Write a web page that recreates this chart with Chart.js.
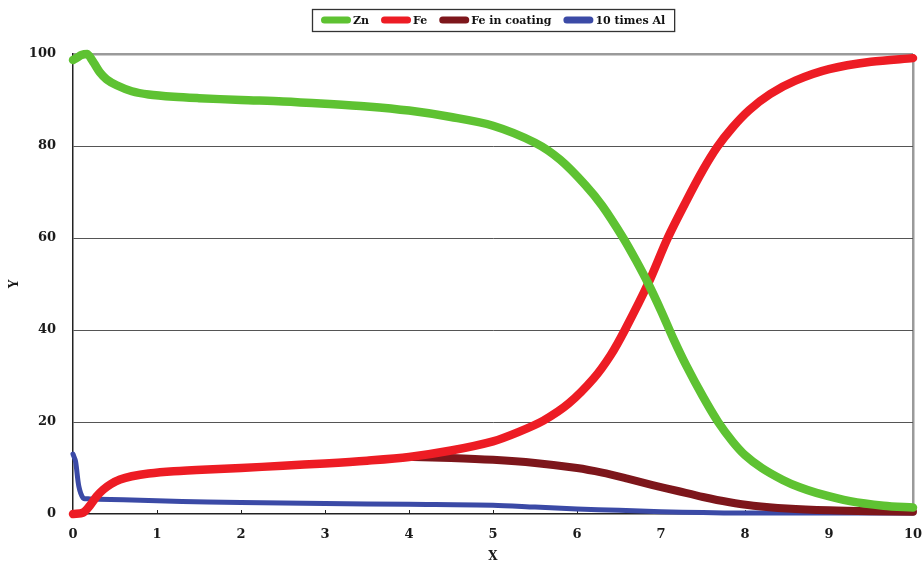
<!DOCTYPE html>
<html>
<head>
<meta charset="utf-8">
<script src="https://cdn.jsdelivr.net/npm/chart.js@4/dist/chart.umd.min.js"></script>
<style>
  html, body { margin: 0; padding: 0; background: #ffffff; }
  #wrap { width: 923px; height: 564px; }
</style>
</head>
<body>
<div id="wrap"><canvas id="c" width="923" height="564"></canvas></div>
<script>
// Composition profiles along depth X
const znX  = [0, 0.05, 0.1, 0.17, 0.25, 0.32, 0.4, 0.52, 0.7, 0.9, 1.2, 1.5, 2, 2.5, 3, 3.5, 4, 4.5, 5, 5.5, 5.8, 6.1, 6.3, 6.55, 6.7, 6.85, 7.0, 7.15, 7.3, 7.5, 7.68, 7.85, 8.0, 8.2, 8.45, 8.65, 8.85, 9.25, 9.65, 10];
const znY  = [98.7, 99.2, 99.8, 100, 98, 96, 94.5, 93.2, 91.9, 91.2, 90.7, 90.4, 90.0, 89.7, 89.2, 88.6, 87.7, 86.3, 84.4, 80.7, 77.0, 71.5, 67.0, 60.0, 55.2, 50.0, 44.2, 38.0, 32.3, 25.5, 20.0, 15.8, 12.8, 10.0, 7.4, 5.8, 4.6, 2.8, 1.8, 1.4];

const feX  = [0, 0.12, 0.2, 0.28, 0.36, 0.45, 0.56, 0.7, 0.9, 1.2, 1.6, 2, 2.5, 3, 3.5, 4, 4.5, 5, 5.3, 5.6, 5.9, 6.2, 6.4, 6.57, 6.85, 7.08, 7.3, 7.5, 7.67, 7.85, 8.05, 8.3, 8.6, 9, 9.5, 10];
const feY  = [0, 0.3, 1.8, 3.8, 5.3, 6.5, 7.5, 8.2, 8.8, 9.3, 9.7, 10.0, 10.5, 11.0, 11.6, 12.4, 13.8, 15.8, 17.8, 20.3, 24.0, 29.5, 34.5, 40.0, 50.2, 60.0, 68.0, 74.8, 79.8, 84.0, 87.8, 91.3, 94.2, 96.7, 98.3, 99.1];

const coatX = [4.05, 4.5, 5, 5.5, 6, 6.3, 6.6, 6.9, 7.2, 7.5, 7.8, 8.1, 8.5, 9, 9.5, 10];
const coatY = [12.4, 12.2, 11.8, 11.1, 10.0, 9.0, 7.7, 6.3, 5.0, 3.7, 2.6, 1.8, 1.2, 0.8, 0.6, 0.5];

const alX  = [0, 0.03, 0.07, 0.12, 0.18, 0.3, 0.6, 1, 1.6, 2, 3, 4, 5, 5.5, 6, 6.5, 7, 7.5, 8, 9, 10];
const alY  = [13, 11.5, 6, 3.5, 3.3, 3.2, 3.1, 2.9, 2.6, 2.5, 2.3, 2.1, 1.9, 1.5, 1.1, 0.8, 0.5, 0.3, 0.2, 0.2, 0.2];

const seriesNames = ['Zn', 'Fe', 'Fe in coating', '10 times Al'];
const xTicks = [0, 1, 2, 3, 4, 5, 6, 7, 8, 9, 10];
const yTicks = [0, 20, 40, 60, 80, 100];

const pts = (xs, ys) => xs.map((x, i) => ({ x: x, y: ys[i] }));

const TICK_FONT = { family: 'DejaVu Serif', weight: 'bold', size: 13 };
const LEGEND_FONT = 'bold 11px "DejaVu Serif"';

// Boxed legend with rounded line samples, centred over the plot
const boxedLegend = {
  id: 'boxedLegend',
  afterDraw(chart) {
    const ctx = chart.ctx;
    const ca = chart.chartArea;
    const sample = 30, gapText = 2, gapItem = 12, padX = 9;
    ctx.save();
    ctx.font = LEGEND_FONT;
    const items = chart.data.datasets.map(ds => ({ label: ds.label, color: ds.borderColor, w: ctx.measureText(ds.label).width }));
    let total = padX * 2;
    items.forEach((it, i) => { total += sample + gapText + it.w + (i < items.length - 1 ? gapItem : 0); });
    const left = Math.round((ca.left + ca.right) / 2 - total / 2);
    const top = 9, h = 22, cy = top + h / 2;
    ctx.strokeStyle = '#333333';
    ctx.lineWidth = 1.3;
    ctx.strokeRect(left + 0.5, top + 0.5, total, h);
    let x = left + padX;
    items.forEach(it => {
      ctx.strokeStyle = it.color;
      ctx.lineWidth = 7;
      ctx.lineCap = 'round';
      ctx.beginPath();
      ctx.moveTo(x + 3.5, cy);
      ctx.lineTo(x + sample - 3.5, cy);
      ctx.stroke();
      x += sample + gapText;
      ctx.fillStyle = '#111111';
      ctx.textBaseline = 'middle';
      ctx.textAlign = 'left';
      ctx.fillText(it.label, x, cy + 1);
      x += it.w + gapItem;
    });
    ctx.restore();
  }
};

// Short inward tick marks on the X axis
const innerTicks = {
  id: 'innerTicks',
  beforeDatasetsDraw(chart) {
    const ctx = chart.ctx;
    const xs = chart.scales.x;
    const b = chart.chartArea.bottom;
    ctx.save();
    ctx.strokeStyle = '#222222';
    ctx.lineWidth = 1;
    xTicks.forEach(v => {
      if (v === 0 || v === 10) return;
      const px = Math.round(xs.getPixelForValue(v)) + 0.5;
      ctx.beginPath();
      ctx.moveTo(px, b);
      ctx.lineTo(px, b - 4);
      ctx.stroke();
    });
    ctx.restore();
  }
};

const lineDs = (label, data, color, width) => ({
  label: label,
  data: data,
  borderColor: color,
  backgroundColor: color,
  borderWidth: width,
  pointRadius: 0,
  pointHoverRadius: 0,
  fill: false,
  tension: 0.3,
  borderCapStyle: 'round',
  borderJoinStyle: 'round',
  clip: 8
});

new Chart(document.getElementById('c'), {
  type: 'line',
  data: {
    datasets: [
      lineDs(seriesNames[0], pts(znX, znY), '#5EC232', 8.5),
      lineDs(seriesNames[1], pts(feX, feY), '#ED1C24', 8.5),
      lineDs(seriesNames[2], pts(coatX, coatY), '#7D161B', 8),
      lineDs(seriesNames[3], pts(alX, alY), '#3B4AA6', 5)
    ]
  },
  options: {
    responsive: false,
    animation: false,
    devicePixelRatio: 1,
    layout: { padding: { top: 54, right: 10, left: 0, bottom: 0 } },
    plugins: {
      legend: { display: false },
      tooltip: { enabled: false }
    },
    scales: {
      x: {
        type: 'linear',
        min: 0,
        max: 10,
        afterFit(scale) { scale.height = 50; scale.paddingLeft = 0; scale.paddingRight = 0; },
        afterBuildTicks(scale) { scale.ticks = xTicks.map(v => ({ value: v })); },
        ticks: { font: TICK_FONT, color: '#1a1a1a', padding: 13, maxRotation: 0 },
        grid: {
          drawTicks: false,
          color: ctx => (ctx.tick && ctx.tick.value === 10 ? '#9a9a9a' : 'rgba(0,0,0,0)'),
          lineWidth: ctx => (ctx.tick && ctx.tick.value === 10 ? 2.5 : 0)
        },
        border: { color: '#222222', width: 1.5 },
        title: { display: true, text: 'X', font: { family: 'DejaVu Serif', weight: 'bold', size: 12 }, color: '#1a1a1a', padding: { top: 0, bottom: 0 } }
      },
      y: {
        type: 'linear',
        min: 0,
        max: 100,
        afterFit(scale) { scale.width = 73; scale.paddingTop = 0; scale.paddingBottom = 0; },
        afterBuildTicks(scale) { scale.ticks = yTicks.map(v => ({ value: v })); },
        ticks: { font: TICK_FONT, color: '#1a1a1a', padding: 17 },
        grid: {
          drawTicks: false,
          color: ctx => (ctx.tick && ctx.tick.value === 100 ? '#9a9a9a' : '#555555'),
          lineWidth: ctx => (ctx.tick && ctx.tick.value === 100 ? 2.5 : (ctx.tick && ctx.tick.value === 0 ? 0 : 1))
        },
        border: { color: '#222222', width: 1.5 },
        title: { display: true, text: 'Y', font: { family: 'DejaVu Serif', weight: 'bold', size: 12 }, color: '#1a1a1a', padding: { top: 8, bottom: 0 } }
      }
    }
  },
  plugins: [innerTicks, boxedLegend]
});
</script>
</body>
</html>
